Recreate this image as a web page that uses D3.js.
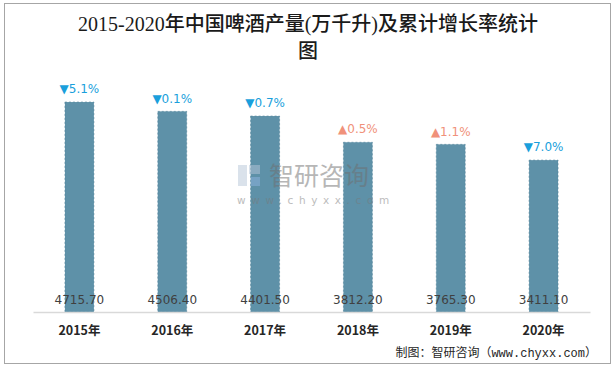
<!DOCTYPE html>
<html><head><meta charset="utf-8">
<script src="https://cdn.jsdelivr.net/npm/d3@7"></script>
<style>body{margin:0;background:#fff;}svg{display:block;}</style>
</head><body>
<script>
const years = ["2015年","2016年","2017年","2018年","2019年","2020年"];
const output = [4715.70, 4506.40, 4401.50, 3812.20, 3765.30, 3411.10];
const growth = [-5.1, -0.1, -0.7, 0.5, 1.1, -7.0];
const valueLabels = ["4715.70","4506.40","4401.50","3812.20","3765.30","3411.10"];

const W = 615, H = 368;
const svg = d3.select("body").append("svg").attr("width", W).attr("height", H);
svg.append("rect").attr("x",4.5).attr("y",3.5).attr("width",606).attr("height",360)
  .attr("fill","#fff").attr("stroke","#a6a6a6").attr("stroke-width",1);

const titleFont = "'Liberation Serif','Noto Sans CJK SC',serif";
svg.append("text").attr("x",308).attr("y",31).attr("text-anchor","middle")
  .attr("font-family",titleFont).attr("font-size",20).attr("font-weight",500).attr("fill","#1a1a1a")
  .text("2015-2020年中国啤酒产量(万千升)及累计增长率统计");
svg.append("text").attr("x",308).attr("y",58).attr("text-anchor","middle")
  .attr("font-family",titleFont).attr("font-size",20).attr("font-weight",500).attr("fill","#1a1a1a")
  .text("图");

const x = d3.scaleBand().domain(years).range([33, 590]).paddingInner(0.688).paddingOuter(0.344);
const y = d3.scaleLinear().domain([0, 5000]).range([312, 89.4]);

svg.append("g").selectAll("rect").data(output).join("rect")
  .attr("x",(d,i)=>x(years[i])).attr("y",d=>y(d)).attr("width",x.bandwidth()).attr("height",d=>y(0)-y(d))
  .attr("fill","#5e91a8").attr("stroke","#4d7f97").attr("stroke-width",0.6).attr("stroke-dasharray","2,2");

// watermark (on top, translucent)
const wm = svg.append("g").attr("opacity",0.5);
wm.append("rect").attr("x",238).attr("y",165).attr("width",9).attr("height",21).attr("fill","#b7c6d8");
wm.append("rect").attr("x",249).attr("y",165).attr("width",11).attr("height",9).attr("fill","#b7c6d8");
wm.append("rect").attr("x",251).attr("y",177).attr("width",9).attr("height",9).attr("fill","#8fb3e0");
wm.append("text").attr("x",269).attr("y",185).attr("font-family","'Noto Sans CJK SC',sans-serif").attr("font-size",25).attr("fill","#6f6f6f").text("智研咨询");
wm.append("text").attr("x",237).attr("y",204).attr("font-family","'DejaVu Sans',sans-serif").attr("font-size",10.5).attr("letter-spacing",5.6).attr("fill","#7a7a7a").text("www.chyxx.com");

const xAxis = svg.append("g").attr("transform","translate(0,312)").call(d3.axisBottom(x).tickSize(0).tickPadding(14));
xAxis.select(".domain").attr("stroke","#d9d9d9").attr("stroke-width",1.5);
xAxis.selectAll("text").attr("font-family","'Noto Sans CJK SC',sans-serif").attr("font-size",12.5).attr("font-weight","bold").attr("fill","#262626");

svg.append("g").selectAll("text").data(valueLabels).join("text")
  .attr("x",(d,i)=>x(years[i])+x.bandwidth()/2).attr("y",303.5).attr("text-anchor","middle")
  .attr("font-family","'DejaVu Sans',sans-serif").attr("font-size",12).attr("fill","#404040").text(d=>d);

const gl = svg.append("g").selectAll("g").data(growth).join("g")
  .attr("transform",(d,i)=>`translate(${x(years[i])+x.bandwidth()/2},${y(output[i])-13})`);
gl.append("text").attr("text-anchor","middle").attr("dy","0.35em")
  .attr("font-family","'DejaVu Sans',sans-serif").attr("font-size",12)
  .attr("fill",d=>d<0?"#1a9fdc":"#f0917a")
  .text(d=>(d<0?"▼":"▲")+Math.abs(d).toFixed(1)+"%");

svg.append("text").attr("x",597).attr("y",357).attr("text-anchor","end")
  .attr("font-family","'Liberation Mono','Noto Sans CJK SC',monospace").attr("font-size",12).attr("fill","#262626")
  .text("制图：智研咨询（www.chyxx.com）");
</script>
</body></html>
